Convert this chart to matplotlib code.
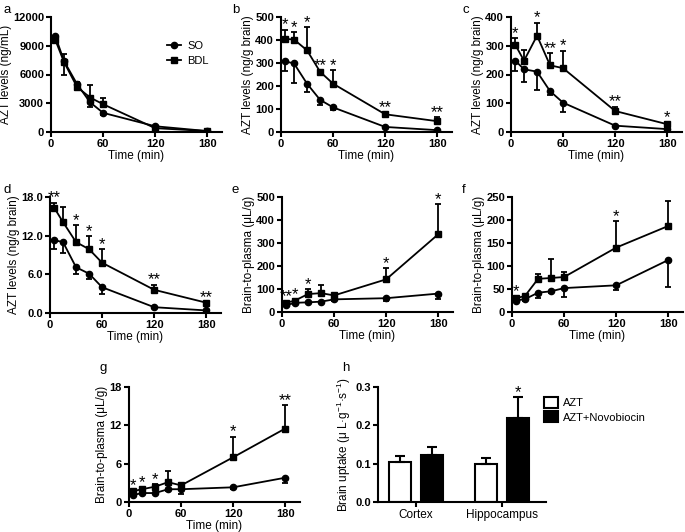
import numpy as np
import matplotlib
matplotlib.use('Agg')
import matplotlib.pyplot as plt
from matplotlib.patches import Patch
from matplotlib.lines import Line2D

plt.rcParams['font.family'] = ['Liberation Sans', 'DejaVu Sans']
plt.rcParams['mathtext.fontset'] = 'custom'
plt.rcParams['mathtext.rm'] = 'Liberation Sans'
plt.rcParams['mathtext.it'] = 'Liberation Sans:italic'

# time points (min)
t = [5, 15, 30, 45, 60, 120, 180]

# a: plasma
a_so = [10000, 7400, 5000, 3100, 2000, 600, 100]
a_so_err = [200, 1400, 600, 500, 200, 100, 50]
a_bdl = [9600, 7300, 4700, 3600, 2900, 400, 100]
a_bdl_err = [300, 800, 500, 1300, 600, 100, 50]

# b
b_so = [307, 298, 210, 140, 107, 22, 8]
b_so_err = [40, 85, 35, 22, 10, 5, 3]
b_bdl = [405, 402, 355, 262, 210, 77, 47]
b_bdl_err = [40, 33, 100, 8, 60, 8, 18]
b_stars = ['*', '*', '*', '**', '*', '**', '**']

# c
c_so = [248, 218, 210, 142, 102, 22, 10]
c_so_err = [35, 43, 63, 15, 32, 4, 3]
c_bdl = [303, 248, 335, 232, 222, 73, 27]
c_bdl_err = [24, 37, 45, 43, 61, 15, 8]
c_stars = ['*', '', '*', '**', '*', '**', '*']

# d
d_so = [11.3, 11.0, 7.1, 6.1, 4.0, 0.9, 0.4]
d_so_err = [1.4, 1.7, 1.1, 0.9, 1.1, 0.1, 0.1]
d_bdl = [16.3, 14.1, 11.0, 9.9, 7.8, 3.6, 1.6]
d_bdl_err = [0.8, 2.4, 2.6, 2.0, 2.1, 0.8, 0.1]
d_stars = ['**', '', '*', '*', '*', '**', '**']

# e
e_so = [30, 40, 42, 45, 55, 60, 80]
e_so_err = [5, 5, 4, 4, 5, 12, 25]
e_bdl = [40, 50, 78, 82, 72, 142, 338]
e_bdl_err = [5, 5, 20, 36, 8, 48, 130]
e_stars = ['**', '*', '*', '', '', '*', '*']

# f
f_so = [25, 28, 42, 45, 52, 58, 113]
f_so_err = [3, 4, 12, 3, 20, 11, 58]
f_bdl = [30, 35, 72, 74, 76, 140, 187]
f_bdl_err = [4, 3, 10, 41, 10, 58, 55]
f_stars = ['*', '', '', '', '', '*', '']

# g
g_so = [1.1, 1.4, 1.4, 2.0, 2.0, 2.3, 3.8]
g_so_err = [0.2, 0.2, 0.2, 0.2, 0.8, 0.3, 0.9]
g_bdl = [1.7, 2.0, 2.4, 3.1, 2.6, 7.0, 11.5]
g_bdl_err = [0.2, 0.3, 0.4, 1.7, 0.3, 3.2, 3.7]
g_stars = ['*', '*', '*', '', '', '*', '**']

# h: bar chart
regions = ['Cortex', 'Hippocampus']
h_azt = [0.104, 0.099]
h_azt_err = [0.016, 0.016]
h_novo = [0.123, 0.219]
h_novo_err = [0.021, 0.055]

W, H = 685, 532
fig = plt.figure(figsize=(W / 100, H / 100), dpi=100)


def box(left, top, right, bottom):
    return [left / W, 1 - bottom / H, (right - left) / W, (bottom - top) / H]


def style(ax):
    for s in ['top', 'right']:
        ax.spines[s].set_visible(False)
    for s in ['left', 'bottom']:
        ax.spines[s].set_linewidth(1.5)
    ax.tick_params(width=1.5, length=3.5, labelsize=8, pad=1.5)
    for lab in ax.get_xticklabels() + ax.get_yticklabels():
        lab.set_fontweight('bold')


def time_panel(pos, so, so_err, bdl, bdl_err, ymax, ystep, ylabel, stars=None,
               fmt=None, legend=False):
    ax = fig.add_axes(pos)
    z = np.zeros(len(t))
    ax.errorbar(t, so, yerr=[so_err, z], fmt='-o', color='black', ms=4.5,
                lw=1.3, elinewidth=1.3, capsize=2.5, capthick=1.3, label='SO')
    ax.errorbar(t, bdl, yerr=[z, bdl_err], fmt='-s', color='black', ms=4,
                lw=1.3, elinewidth=1.3, capsize=2.5, capthick=1.3, label='BDL')
    ax.set_xlim(0, 197)
    ax.set_ylim(0, ymax)
    ax.set_xticks([0, 60, 120, 180])
    ax.set_yticks(np.arange(0, ymax + ystep / 2, ystep))
    if fmt:
        ax.set_yticklabels([fmt % v for v in np.arange(0, ymax + ystep / 2, ystep)])
    ax.set_xlabel('Time (min)', fontsize=8.5, labelpad=0.5)
    ax.set_ylabel(ylabel, fontsize=8.5, labelpad=1)
    style(ax)
    if stars:
        for x, y, e, s in zip(t, bdl, bdl_err, stars):
            if s:
                ax.annotate(s, (x, y + e), xytext=(0, -2), textcoords='offset points',
                            ha='center', va='bottom', fontsize=12, clip_on=False)
    if legend:
        handles = [Line2D([], [], color='black', marker='o', ms=4.5, lw=1.3),
                   Line2D([], [], color='black', marker='s', ms=4, lw=1.3)]
        ax.legend(handles, ['SO', 'BDL'], frameon=False, fontsize=8,
                  loc='upper left', bbox_to_anchor=(0.62, 0.88),
                  handlelength=1.3, handletextpad=0.5, labelspacing=0.45)
    return ax


time_panel(box(51, 17, 222, 132), a_so, a_so_err, a_bdl, a_bdl_err, 12000, 3000,
           'AZT levels (ng/mL)', legend=True)
time_panel(box(281, 17, 452, 132), b_so, b_so_err, b_bdl, b_bdl_err, 500, 100,
           'AZT levels (ng/g brain)', stars=b_stars)
time_panel(box(511, 17, 682, 132), c_so, c_so_err, c_bdl, c_bdl_err, 400, 100,
           'AZT levels (ng/g brain)', stars=c_stars)
time_panel(box(50, 197, 221, 313), d_so, d_so_err, d_bdl, d_bdl_err, 18, 6,
           'AZT levels (ng/g brain)', stars=d_stars, fmt='%.1f')
time_panel(box(282, 197, 453, 312), e_so, e_so_err, e_bdl, e_bdl_err, 500, 100,
           'Brain-to-plasma (μL/g)', stars=e_stars)
time_panel(box(512, 197, 683, 312), f_so, f_so_err, f_bdl, f_bdl_err, 250, 50,
           'Brain-to-plasma (μL/g)', stars=f_stars)
time_panel(box(129, 387, 300, 502), g_so, g_so_err, g_bdl, g_bdl_err, 18, 6,
           'Brain-to-plasma (μL/g)', stars=g_stars)

# h
axh = fig.add_axes(box(378, 387, 546, 502))
xc = np.arange(len(regions))
bw = 0.256
off = 0.186
axh.bar(xc - off, h_azt, bw, yerr=[np.zeros(2), h_azt_err], color='white',
        edgecolor='black', linewidth=1.5, error_kw=dict(elinewidth=1.5, capsize=3.5, capthick=1.5),
        label='AZT')
axh.bar(xc + off, h_novo, bw, yerr=[np.zeros(2), h_novo_err], color='black',
        edgecolor='black', linewidth=1.5, error_kw=dict(elinewidth=1.5, capsize=3.5, capthick=1.5),
        label='AZT+Novobiocin')
axh.annotate('*', (xc[1] + off, h_novo[1] + h_novo_err[1]), xytext=(0, -2),
             textcoords='offset points', ha='center', va='bottom', fontsize=12)
axh.set_xlim(-0.442, 1.512)
axh.set_ylim(0, 0.3)
axh.set_yticks([0, 0.1, 0.2, 0.3])
axh.set_yticklabels(['0.0', '0.1', '0.2', '0.3'])
axh.set_xticks(xc)
axh.set_xticklabels(regions)
axh.set_ylabel('Brain uptake (μ L·g$^{-1}$·s$^{-1}$)', fontsize=8.5, labelpad=2)
style(axh)
for lab in axh.get_xticklabels():
    lab.set_fontweight('normal')
    lab.set_fontsize(8.5)
axh.legend([Patch(facecolor='white', edgecolor='black', linewidth=1.5),
            Patch(facecolor='black', edgecolor='black', linewidth=1.5)],
           ['AZT', 'AZT+Novobiocin'], frameon=False, fontsize=8,
           loc='upper left', bbox_to_anchor=(0.93, 1.0), handlelength=1.2,
           handleheight=1.1, handletextpad=0.5, labelspacing=0.3)

# panel letters
for letter, x, y in [('a', 3, 10), ('b', 232, 10), ('c', 462, 10),
                     ('d', 3, 190), ('e', 232, 190), ('f', 462, 190),
                     ('g', 100, 368), ('h', 342, 368)]:
    fig.text(x / W, 1 - y / H, letter, fontsize=9.5, va='center', ha='left')

fig.savefig('out.png', dpi=100)
